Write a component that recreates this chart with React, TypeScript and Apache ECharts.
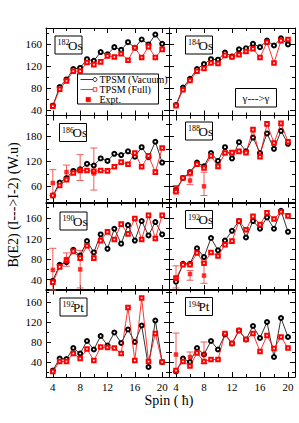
import React, { useEffect, useRef } from "react";
import * as echarts from "echarts";

const spins = [4, 5, 6, 7, 8, 9, 10, 11, 12, 13, 14, 15, 16, 17, 18, 19, 20];
const xMajor = [4, 8, 12, 16, 20];
const xMinor = [6, 10, 14, 18];

const os182Vac = [48, 82, 96, 115, 117, 133, 130, 146, 142, 155, 150, 164, 154, 169, 160, 178, 161];
const os182Full = [47, 78, 93, 111, 111, 127, 123, 128, 139, 137, 143, 131, 154, 136, 156, 136, 151];

const os184Vac = [49, 81, 97, 115, 124, 133, 132, 145, 138, 151, 153, 161, 155, 167, 158, 171, 160];
const os184Full = [48, 77, 94, 111, 116, 126, 125, 140, 137, 141, 147, 152, 136, 164, 126, 167, 169];

const os186Vac = [38, 69, 80, 97, 101, 114, 110, 127, 121, 138, 135, 144, 131, 154, 130, 167, 117];
const os186Full = [38, 62, 76, 92, 98, 98, 96, 98, 97, 107, 118, 113, 140, 107, 133, 94, 152];
const exp186Spin = [4, 6, 8, 10];
const exp186Val = [68, 94, 100, 91];
const exp186Lo = [38, 76, 74, 51];
const exp186Hi = [100, 111, 136, 152];

const os188Vac = [52, 80, 94, 117, 108, 140, 121, 154, 127, 166, 144, 177, 140, 187, 150, 193, 162];
const os188Full = [47, 80, 92, 113, 104, 133, 108, 140, 141, 144, 141, 196, 131, 210, 164, 211, 167];
const exp188Spin = [4, 6, 8];
const exp188Val = [56, 74, 60];
const exp188Lo = [45, 64, 38];
const exp188Hi = [62, 85, 94];

const os190Vac = [38, 69, 74, 98, 87, 115, 93, 128, 100, 139, 110, 146, 116, 154, 126, 152, 128];
const os190Full = [35, 65, 78, 95, 82, 106, 82, 116, 133, 118, 148, 129, 159, 118, 165, 120, 165];
const exp190Spin = [4, 6, 8];
const exp190Val = [59, 80, 60];
const exp190Lo = [20, 66, 24];
const exp190Hi = [101, 92, 97];

const os192Vac = [36, 71, 71, 101, 84, 121, 97, 116, 135, 154, 122, 154, 139, 161, 139, 174, 133];
const os192Full = [43, 69, 69, 92, 72, 93, 86, 108, 115, 154, 137, 163, 147, 170, 158, 172, 164];
const exp192Spin = [4, 6, 8];
const exp192Val = [43, 51, 48];
const exp192Lo = [24, 39, 33];
const exp192Hi = [67, 58, 74];

const pt192Vac = [23, 47, 46, 68, 57, 82, 65, 92, 73, 99, 78, 105, 80, 113, 30, 123, 40];
const pt192Full = [21, 41, 41, 57, 47, 66, 43, 70, 69, 68, 57, 149, 43, 168, 41, 97, 40];

const pt194Vac = [21, 47, 40, 68, 55, 82, 65, 95, 77, 103, 85, 112, 88, 120, 50, 128, 90];
const pt194Full = [23, 41, 32, 58, 41, 45, 45, 97, 77, 103, 85, 97, 61, 93, 67, 90, 68];
const exp194Spin = [4, 6, 8];
const exp194Val = [55, 50, 55];
const exp194Lo = [21, 40, 37];
const exp194Hi = [98, 60, 80];

const rowRanges = [
  { min: 30, max: 190, major: [40, 80, 120, 160], minor: [60, 100, 140, 180] },
  { min: 20, max: 230, major: [60, 120, 180], minor: [30, 90, 150, 210] },
  { min: 20, max: 190, major: [40, 80, 120, 160], minor: [60, 100, 140, 180] },
  { min: 10, max: 185, major: [40, 80, 120, 160], minor: [20, 60, 100, 140, 180] },
];

type Panel = {
  mass: string;
  el: string;
  vac: number[];
  full: number[];
  exp?: { s: number[]; v: number[]; lo: number[]; hi: number[] };
};

const panels: Panel[] = [
  { mass: "182", el: "Os", vac: os182Vac, full: os182Full },
  { mass: "184", el: "Os", vac: os184Vac, full: os184Full },
  { mass: "186", el: "Os", vac: os186Vac, full: os186Full, exp: { s: exp186Spin, v: exp186Val, lo: exp186Lo, hi: exp186Hi } },
  { mass: "188", el: "Os", vac: os188Vac, full: os188Full, exp: { s: exp188Spin, v: exp188Val, lo: exp188Lo, hi: exp188Hi } },
  { mass: "190", el: "Os", vac: os190Vac, full: os190Full, exp: { s: exp190Spin, v: exp190Val, lo: exp190Lo, hi: exp190Hi } },
  { mass: "192", el: "Os", vac: os192Vac, full: os192Full, exp: { s: exp192Spin, v: exp192Val, lo: exp192Lo, hi: exp192Hi } },
  { mass: "192", el: "Pt", vac: pt192Vac, full: pt192Full },
  { mass: "194", el: "Pt", vac: pt194Vac, full: pt194Full, exp: { s: exp194Spin, v: exp194Val, lo: exp194Lo, hi: exp194Hi } },
];

const colLeft = [46, 169];
const colWidth = [123, 126];
const rowTop = [28, 115.5, 202.5, 289.5];
const rowHeight = 87.5;
const boxPos = [
  [55, 36], [185.5, 36],
  [59.5, 123.5], [185.5, 122],
  [60, 212], [185.5, 210.5],
  [60, 298], [185.5, 297.5],
];

const FONT = "'Liberation Serif', 'Times New Roman', serif";
const RED = "#ff0000";
const ERR = "#f25c5c";

export default function App() {
  const ref = useRef<HTMLDivElement>(null);
  useEffect(() => {
    if (!ref.current) return;
    const chart = echarts.init(ref.current, undefined, { renderer: "svg" });
    const grids: any[] = [];
    const xAxis: any[] = [];
    const yAxis: any[] = [];
    const series: any[] = [];
    const graphic: any[] = [];

    panels.forEach((p, g) => {
      const row = Math.floor(g / 2);
      const col = g % 2;
      const rr = rowRanges[row];
      grids.push({
        left: colLeft[col],
        top: rowTop[row],
        width: colWidth[col],
        height: rowHeight,
        containLabel: false,
        outerBoundsMode: "none",
      });
      const axLine = { show: true, onZero: false, lineStyle: { color: "#000", width: 1 } };
      const mkX = (pos: string, major: boolean, labels: boolean) => ({
        type: "value",
        gridIndex: g,
        min: 3,
        max: 21,
        position: pos,
        axisLine: major ? axLine : { show: false, onZero: false },
        axisTick: {
          show: true,
          inside: true,
          length: major ? 5 : 3,
          customValues: major ? xMajor : xMinor,
          lineStyle: { color: "#000", width: 1 },
        },
        axisLabel: {
          show: labels,
          customValues: xMajor,
          color: "#000",
          fontFamily: FONT,
          fontSize: 11,
          margin: 4,
        },
        splitLine: { show: false },
      });
      const mkY = (pos: string, major: boolean, labels: boolean) => ({
        type: "value",
        gridIndex: g,
        min: rr.min,
        max: rr.max,
        position: pos,
        axisLine: major ? axLine : { show: false, onZero: false },
        axisTick: {
          show: true,
          inside: true,
          length: major ? 5 : 3,
          customValues: major ? rr.major : rr.minor,
          lineStyle: { color: "#000", width: 1 },
        },
        axisLabel: {
          show: labels,
          customValues: rr.major,
          color: "#000",
          fontFamily: FONT,
          fontSize: 11,
          margin: 4,
        },
        splitLine: { show: false },
      });
      const xi = xAxis.length;
      xAxis.push(mkX("bottom", true, row === 3));
      xAxis.push(mkX("top", true, false));
      xAxis.push(mkX("bottom", false, false));
      xAxis.push(mkX("top", false, false));
      const yi = yAxis.length;
      yAxis.push(mkY("left", true, col === 0));
      yAxis.push(mkY("right", true, false));
      yAxis.push(mkY("left", false, false));
      yAxis.push(mkY("right", false, false));

      series.push({
        type: "line",
        xAxisIndex: xi,
        yAxisIndex: yi,
        data: spins.map((s, i) => [s, p.vac[i]]),
        symbol: "emptyCircle",
        symbolSize: 4,
        lineStyle: { color: "#000", width: 0.8 },
        itemStyle: { color: "#000", borderWidth: 0.8 },
        z: 3,
      });
      series.push({
        type: "line",
        xAxisIndex: xi,
        yAxisIndex: yi,
        data: spins.map((s, i) => [s, p.full[i]]),
        symbol: "emptyRect",
        symbolSize: 3.6,
        lineStyle: { color: RED, width: 0.8 },
        itemStyle: { color: RED, borderWidth: 0.8 },
        z: 4,
      });
      if (p.exp) {
        const e = p.exp;
        series.push({
          type: "custom",
          xAxisIndex: xi,
          yAxisIndex: yi,
          data: e.s.map((s, i) => [s, e.v[i], e.lo[i], e.hi[i]]),
          encode: { x: 0, y: [1, 2, 3] },
          z: 2,
          renderItem: (params: any, api: any) => {
            const x = api.value(0);
            const a = api.coord([x, api.value(2)]);
            const b = api.coord([x, api.value(3)]);
            const w = 3.5;
            const st = { stroke: ERR, lineWidth: 1 };
            return {
              type: "group",
              children: [
                { type: "line", shape: { x1: a[0], y1: a[1], x2: b[0], y2: b[1] }, style: st },
                { type: "line", shape: { x1: a[0] - w, y1: a[1], x2: a[0] + w, y2: a[1] }, style: st },
                { type: "line", shape: { x1: b[0] - w, y1: b[1], x2: b[0] + w, y2: b[1] }, style: st },
              ],
            };
          },
        });
        series.push({
          type: "scatter",
          xAxisIndex: xi,
          yAxisIndex: yi,
          data: e.s.map((s, i) => [s, e.v[i]]),
          symbol: "rect",
          symbolSize: 4.5,
          itemStyle: { color: RED },
          z: 5,
        });
      }

      const [bx, by] = boxPos[g];
      graphic.push({
        type: "group",
        x: bx,
        y: by,
        children: [
          { type: "rect", shape: { x: 0, y: 0, width: 27, height: 18 }, style: { fill: "#fff", stroke: "#000", lineWidth: 1 } },
          { type: "text", x: 2.5, y: 2.5, style: { text: p.mass, font: `8px ${FONT}`, fill: "#000", textVerticalAlign: "top" } },
          { type: "text", x: 13, y: 15.5, style: { text: p.el, font: `13px ${FONT}`, fill: "#000", textVerticalAlign: "bottom" } },
        ],
      });
    });

    graphic.push({
      type: "group",
      x: 77.5,
      y: 74,
      children: [
        { type: "rect", shape: { x: 0, y: 0, width: 81, height: 30 }, style: { fill: "#fff", stroke: "#000", lineWidth: 1 } },
        { type: "line", shape: { x1: 3, y1: 5.5, x2: 18, y2: 5.5 }, style: { stroke: "#000", lineWidth: 0.8 } },
        { type: "circle", shape: { cx: 17.5, cy: 5.5, r: 2 }, style: { fill: "#fff", stroke: "#000", lineWidth: 0.8 } },
        { type: "text", x: 22, y: 5.5, style: { text: "TPSM (Vacuum)", font: `10px ${FONT}`, fill: "#000", textVerticalAlign: "middle" } },
        { type: "line", shape: { x1: 3, y1: 15.5, x2: 18, y2: 15.5 }, style: { stroke: RED, lineWidth: 0.8 } },
        { type: "rect", shape: { x: 15.7, y: 13.7, width: 3.6, height: 3.6 }, style: { fill: "#fff", stroke: RED, lineWidth: 0.8 } },
        { type: "text", x: 22, y: 15.5, style: { text: "TPSM (Full)", font: `10px ${FONT}`, fill: "#000", textVerticalAlign: "middle" } },
        { type: "rect", shape: { x: 8.5, y: 23.3, width: 4.5, height: 4.5 }, style: { fill: RED, stroke: RED, lineWidth: 0.5 } },
        { type: "text", x: 22, y: 25.5, style: { text: "Expt.", font: `10px ${FONT}`, fill: "#000", textVerticalAlign: "middle" } },
      ],
    });
    graphic.push({
      type: "group",
      x: 235.5,
      y: 88.5,
      children: [
        { type: "rect", shape: { x: 0, y: 0, width: 41, height: 18.5 }, style: { fill: "#fff", stroke: "#000", lineWidth: 1 } },
        { type: "text", x: 20.5, y: 9.5, style: { text: "γ--->γ", font: `11px ${FONT}`, fill: "#000", textAlign: "center", textVerticalAlign: "middle" } },
      ],
    });
    graphic.push({
      type: "text",
      x: 13,
      y: 205,
      rotation: Math.PI / 2,
      style: { text: "B(E2) (I--->I-2) (W.u)", font: `14px ${FONT}`, fill: "#000", textAlign: "center", textVerticalAlign: "middle" },
    });
    graphic.push({
      type: "text",
      x: 169,
      y: 400,
      style: { text: "Spin ( ħ)", font: `14px ${FONT}`, fill: "#000", textAlign: "center", textVerticalAlign: "middle" },
    });

    chart.setOption({
      animation: false,
      backgroundColor: "#fff",
      grid: grids,
      xAxis,
      yAxis,
      series,
      graphic,
    });
    return () => chart.dispose();
  }, []);
  return <div ref={ref} style={{ width: 299, height: 423, position: "absolute", left: 0, top: 0 }} />;
}
